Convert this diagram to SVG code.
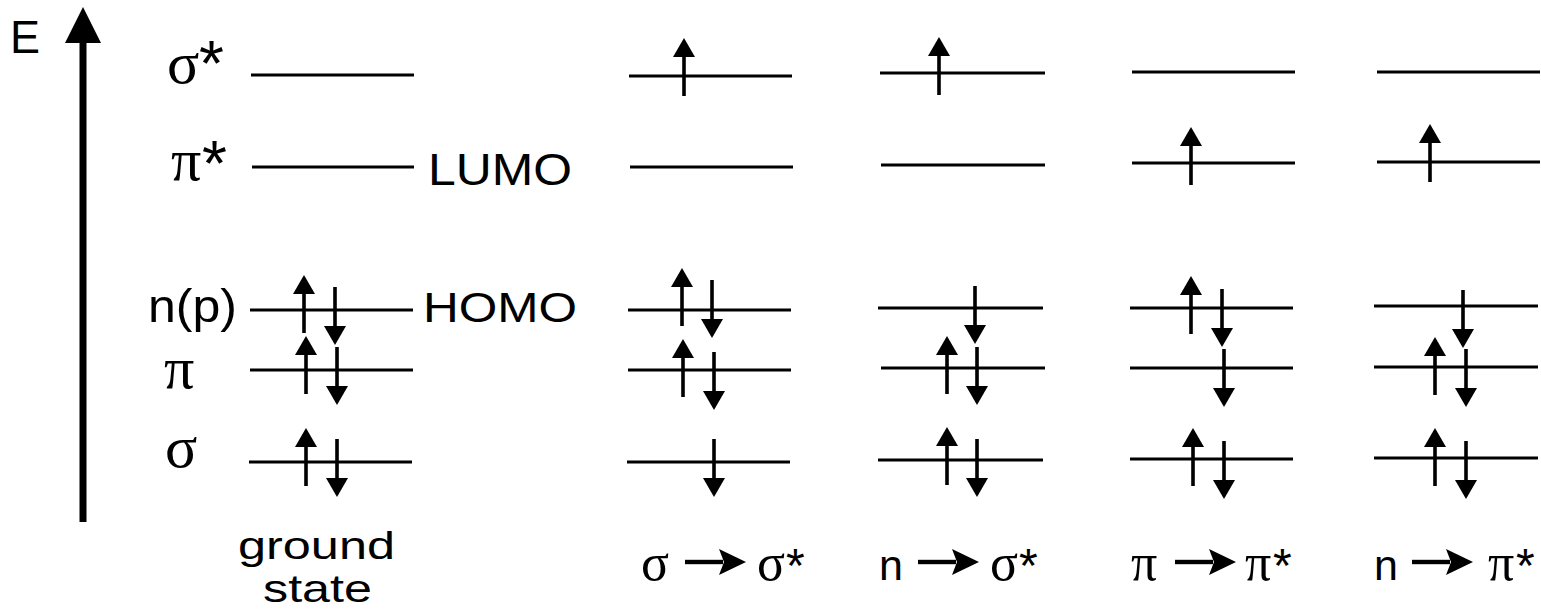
<svg xmlns="http://www.w3.org/2000/svg" xmlns:xlink="http://www.w3.org/1999/xlink" width="1541" height="610" viewBox="0 0 1541 610">
<style>
.lv{stroke:#000;stroke-width:3;fill:none}
.sans{font-family:"Liberation Sans",Arial,sans-serif;fill:#000}
.gr{font-family:"Liberation Serif","Times New Roman",serif;fill:#000}
.ast{font-family:"Liberation Sans",Arial,sans-serif;fill:#000}
</style>
<defs>
<g id="up"><polygon points="0,0 -11,19 11,19" fill="#000"/><rect x="-1.8" y="17" width="3.6" height="41" fill="#000"/></g>
<g id="dn"><polygon points="0,0 -11,-19 11,-19" fill="#000"/><rect x="-1.8" y="-58" width="3.6" height="41" fill="#000"/></g>
<g id="tr"><rect x="0" y="-2.2" width="38" height="4.4" fill="#000"/><polygon points="61,0 34,-13 39,0 34,13" fill="#000"/></g>
</defs>
<rect width="1541" height="610" fill="#fff"/>

<g id="axis">
<rect x="79.5" y="40" width="7" height="482" fill="#000"/>
<polygon points="83,7 65,43 101,43" fill="#000"/>
<text class="sans" x="10" y="53" font-size="46" textLength="30" lengthAdjust="spacingAndGlyphs">E</text>
</g>

<g id="labels">
<text class="gr" x="167" y="83" font-size="60">σ</text>
<text class="ast" x="199" y="86" font-size="64">*</text>
<text class="gr" x="171" y="180" font-size="60">π</text>
<text class="ast" x="202" y="186" font-size="64">*</text>
<text class="sans" x="148" y="322" font-size="47" textLength="89" lengthAdjust="spacingAndGlyphs">n(p)</text>
<text class="gr" x="164" y="388" font-size="60">π</text>
<text class="gr" x="165" y="467" font-size="60">σ</text>
<text class="sans" x="428" y="185" font-size="44" textLength="144" lengthAdjust="spacingAndGlyphs">LUMO</text>
<text class="sans" x="423" y="322" font-size="42" textLength="154" lengthAdjust="spacingAndGlyphs">HOMO</text>
</g>

<g id="ground-state">
<line class="lv" x1="251" y1="75" x2="414" y2="75"/>
<line class="lv" x1="252" y1="167" x2="414" y2="167"/>
<line class="lv" x1="250" y1="310" x2="413" y2="310"/>
<line class="lv" x1="250" y1="370" x2="413" y2="370"/>
<line class="lv" x1="249" y1="462" x2="412" y2="462"/>
<use xlink:href="#up" x="304" y="275"/><use xlink:href="#dn" x="335" y="345"/>
<use xlink:href="#up" x="306" y="336"/><use xlink:href="#dn" x="337" y="405"/>
<use xlink:href="#up" x="306" y="428"/><use xlink:href="#dn" x="337" y="497"/>
<text class="sans" x="238" y="559" font-size="39" textLength="157" lengthAdjust="spacingAndGlyphs">ground</text>
<text class="sans" x="263" y="602" font-size="39" textLength="109" lengthAdjust="spacingAndGlyphs">state</text>
</g>

<g id="sigma-sigma-star">
<line class="lv" x1="629" y1="76" x2="792" y2="76"/>
<line class="lv" x1="630" y1="167" x2="793" y2="167"/>
<line class="lv" x1="628" y1="310" x2="791" y2="310"/>
<line class="lv" x1="628" y1="370" x2="791" y2="370"/>
<line class="lv" x1="627" y1="462" x2="790" y2="462"/>
<use xlink:href="#up" x="684" y="38"/>
<use xlink:href="#up" x="682" y="268"/><use xlink:href="#dn" x="712" y="338"/>
<use xlink:href="#up" x="683" y="339"/><use xlink:href="#dn" x="714" y="410"/>
<use xlink:href="#dn" x="714" y="497"/>
<text class="gr" x="641" y="580" font-size="52">σ</text>
<text class="gr" x="757" y="580" font-size="52">σ</text>
<text class="ast" x="786" y="582" font-size="48">*</text>
</g>

<g id="n-sigma-star">
<line class="lv" x1="880" y1="73" x2="1045" y2="73"/>
<line class="lv" x1="881" y1="165" x2="1045" y2="165"/>
<line class="lv" x1="878" y1="308" x2="1043" y2="308"/>
<line class="lv" x1="881" y1="368" x2="1045" y2="368"/>
<line class="lv" x1="878" y1="460" x2="1043" y2="460"/>
<use xlink:href="#up" x="939" y="37"/>
<use xlink:href="#dn" x="975" y="344"/>
<use xlink:href="#up" x="947" y="336"/><use xlink:href="#dn" x="977" y="405"/>
<use xlink:href="#up" x="947" y="427"/><use xlink:href="#dn" x="977" y="497"/>
<text class="sans" x="879" y="580" font-size="43">n</text>
<text class="gr" x="990" y="580" font-size="52">σ</text>
<text class="ast" x="1019" y="582" font-size="48">*</text>
</g>

<g id="pi-pi-star">
<line class="lv" x1="1132" y1="72" x2="1295" y2="72" stroke-width="4.5"/>
<line class="lv" x1="1132" y1="163" x2="1295" y2="163"/>
<line class="lv" x1="1130" y1="308" x2="1293" y2="308"/>
<line class="lv" x1="1130" y1="368" x2="1293" y2="368"/>
<line class="lv" x1="1130" y1="459" x2="1293" y2="459"/>
<use xlink:href="#up" x="1191" y="127"/>
<use xlink:href="#up" x="1191" y="276"/><use xlink:href="#dn" x="1222" y="347"/>
<use xlink:href="#dn" x="1224" y="407"/>
<use xlink:href="#up" x="1193" y="428"/><use xlink:href="#dn" x="1224" y="499"/>
<text class="gr" x="1131" y="580" font-size="52">π</text>
<text class="gr" x="1245" y="580" font-size="52">π</text>
<text class="ast" x="1273" y="582" font-size="48">*</text>
</g>

<g id="n-pi-star">
<line class="lv" x1="1377" y1="72" x2="1540" y2="72"/>
<line class="lv" x1="1377" y1="162" x2="1540" y2="162"/>
<line class="lv" x1="1374" y1="306" x2="1538" y2="306"/>
<line class="lv" x1="1374" y1="367" x2="1538" y2="367"/>
<line class="lv" x1="1374" y1="458" x2="1538" y2="458"/>
<use xlink:href="#up" x="1430" y="124"/>
<use xlink:href="#dn" x="1463" y="348"/>
<use xlink:href="#up" x="1435" y="337"/><use xlink:href="#dn" x="1466" y="407"/>
<use xlink:href="#up" x="1435" y="428"/><use xlink:href="#dn" x="1466" y="499"/>
<text class="sans" x="1374" y="580" font-size="43">n</text>
<text class="gr" x="1488" y="580" font-size="52">π</text>
<text class="ast" x="1516" y="582" font-size="48">*</text>
</g>

<g id="connectors">
<use xlink:href="#tr" x="685" y="562"/>
<use xlink:href="#tr" x="918" y="562"/>
<use xlink:href="#tr" x="1175" y="562"/>
<use xlink:href="#tr" x="1412" y="562"/>
</g>
</svg>
